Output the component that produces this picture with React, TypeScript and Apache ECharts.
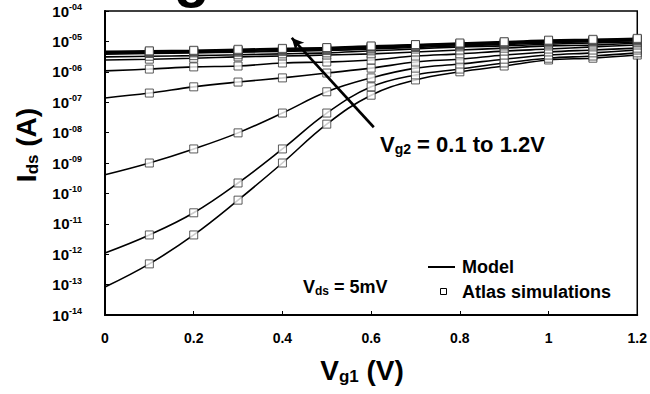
import React, { useEffect, useRef } from "react";
import * as echarts from "echarts";

// Vg1 sweep (V)
const vg1 = [0, 0.1, 0.2, 0.3, 0.4, 0.5, 0.6, 0.7, 0.8, 0.9, 1.0, 1.1, 1.2];

// Ids (A) for each Vg2 value (model = line, Atlas = squares)
const idsVg2_01 = [8.3e-14, 4.8e-13, 4.3e-12, 6.0e-11, 1.0e-9, 1.9e-8, 1.7e-7, 5.4e-7, 1.0e-6, 1.55e-6, 2.45e-6, 2.8e-6, 3.55e-6];
const idsVg2_02 = [1.1e-12, 4.3e-12, 2.3e-11, 2.2e-10, 2.9e-9, 4.4e-8, 3.2e-7, 7.9e-7, 1.23e-6, 1.95e-6, 2.8e-6, 3.3e-6, 4.2e-6];
const idsVg2_03 = [4.1e-10, 1.0e-9, 2.9e-9, 9.8e-9, 4.4e-8, 2.2e-7, 6.3e-7, 1.32e-6, 1.8e-6, 2.6e-6, 3.55e-6, 4.2e-6, 5.2e-6];
const idsVg2_04 = [1.38e-7, 2.0e-7, 3.2e-7, 4.6e-7, 6.3e-7, 9.1e-7, 1.32e-6, 2.1e-6, 2.6e-6, 3.55e-6, 4.5e-6, 5.2e-6, 6.0e-6];
const idsVg2_05 = [1.07e-6, 1.23e-6, 1.45e-6, 1.55e-6, 1.95e-6, 2.1e-6, 2.45e-6, 3.3e-6, 3.9e-6, 4.8e-6, 5.6e-6, 6.6e-6, 7.6e-6];
const idsVg2_06 = [2.45e-6, 2.6e-6, 2.8e-6, 3.1e-6, 3.3e-6, 3.55e-6, 3.9e-6, 4.5e-6, 5.2e-6, 6.0e-6, 7.1e-6, 7.6e-6, 8.9e-6];
const idsVg2_07 = [3.1e-6, 3.24e-6, 3.4e-6, 3.63e-6, 3.9e-6, 4.2e-6, 4.9e-6, 5.6e-6, 6.6e-6, 7.1e-6, 8.1e-6, 8.9e-6, 9.55e-6];
const idsVg2_08 = [3.8e-6, 4.0e-6, 4.2e-6, 4.4e-6, 4.7e-6, 5.0e-6, 5.6e-6, 6.3e-6, 7.2e-6, 7.9e-6, 8.9e-6, 9.8e-6, 1.05e-5];
const idsVg2_09 = [4.1e-6, 4.3e-6, 4.5e-6, 4.7e-6, 5.0e-6, 5.4e-6, 6.0e-6, 6.8e-6, 7.8e-6, 8.5e-6, 9.55e-6, 1.02e-5, 1.1e-5];
const idsVg2_10 = [4.3e-6, 4.5e-6, 4.7e-6, 5.0e-6, 5.4e-6, 5.75e-6, 6.5e-6, 7.2e-6, 8.1e-6, 8.9e-6, 1.0e-5, 1.07e-5, 1.15e-5];
const idsVg2_11 = [4.5e-6, 4.7e-6, 4.9e-6, 5.2e-6, 5.6e-6, 6.0e-6, 6.8e-6, 7.6e-6, 8.5e-6, 9.3e-6, 1.05e-5, 1.12e-5, 1.2e-5];
const idsVg2_12 = [4.7e-6, 4.9e-6, 5.1e-6, 5.5e-6, 5.9e-6, 6.3e-6, 7.1e-6, 7.9e-6, 8.9e-6, 9.8e-6, 1.1e-5, 1.17e-5, 1.26e-5];

const curves = [
  idsVg2_01, idsVg2_02, idsVg2_03, idsVg2_04, idsVg2_05, idsVg2_06,
  idsVg2_07, idsVg2_08, idsVg2_09, idsVg2_10, idsVg2_11, idsVg2_12,
];

// Arrow annotation (data coords: [Vg1, Ids])
const arrowFrom = [0.606, 1.5e-8];
const arrowTo = [0.421, 1.3e-5];

const FONT = '"Liberation Sans", Arial, sans-serif';

export default function App() {
  const ref = useRef<HTMLDivElement>(null);

  useEffect(() => {
    if (!ref.current) return;
    const chart = echarts.init(ref.current, undefined, { renderer: "svg" });

    const series: any[] = [];
    curves.forEach((c, idx) => {
      series.push({
        type: "line",
        name: "Model",
        data: vg1.map((x, i) => [x, c[i]]),
        showSymbol: false,
        smooth: 0.4,
        lineStyle: { color: "#000", width: 1.6 },
        z: 2,
        silent: true,
        ...(idx === 0
          ? {
              markLine: {
                silent: true,
                symbol: ["none", "arrow"],
                symbolSize: [9, 12],
                label: { show: false },
                lineStyle: { color: "#000", width: 2.6, type: "solid" },
                data: [[{ coord: arrowFrom }, { coord: arrowTo }]],
              },
            }
          : {}),
      });
      series.push({
        type: "scatter",
        name: "Atlas simulations",
        data: vg1.slice(1).map((x, i) => [x, c[i + 1]]),
        symbol: "rect",
        symbolSize: 8,
        itemStyle: { color: "#fff", borderColor: "#333", borderWidth: 1 },
        z: 3,
        silent: true,
      });
    });

    const option: any = {
      animation: false,
      backgroundColor: "#fff",
      grid: {
        left: 105,
        right: 12,
        top: 11,
        bottom: 79,
        show: true,
        borderColor: "#000",
        borderWidth: 1.5,
        backgroundColor: "transparent",
      },
      xAxis: {
        type: "value",
        min: 0,
        max: 1.2,
        interval: 0.2,
        axisLine: { show: true, lineStyle: { color: "#000", width: 2 } },
        axisTick: { show: true, inside: true, length: 4, lineStyle: { color: "#000", width: 1 } },
        splitLine: { show: false },
        axisLabel: {
          margin: 16,
          color: "#000",
          fontFamily: FONT,
          fontWeight: "bold",
          fontSize: 14,
          formatter: (v: number) => String(Math.round(v * 10) / 10),
        },
      },
      yAxis: {
        type: "log",
        logBase: 10,
        min: 1e-14,
        max: 1e-4,
        interval: 1,
        splitNumber: 10,
        axisLine: { show: true, lineStyle: { color: "#000", width: 2 } },
        axisTick: { show: true, inside: true, length: 4, lineStyle: { color: "#000", width: 1 } },
        splitLine: { show: false },
        minorTick: { show: false },
        axisLabel: {
          margin: 23,
          color: "#000",
          fontFamily: FONT,
          fontWeight: "bold",
          formatter: (v: number) => {
            const e = Math.round(Math.log10(v));
            const s = "-" + String(Math.abs(e)).padStart(2, "0");
            return "{b|10}{s|" + s + "}";
          },
          rich: {
            b: { fontSize: 15, fontWeight: "bold", fontFamily: FONT, color: "#000" },
            s: { fontSize: 9, fontWeight: "bold", fontFamily: FONT, color: "#000", padding: [0, 0, 8, 0] },
          },
        },
      },
      graphic: [
        {
          type: "text",
          x: 174,
          y: -25,
          silent: true,
          style: { text: "g", font: `bold 58px ${FONT}`, fill: "#000", verticalAlign: "middle" },
        },
        {
          type: "text",
          x: 26,
          y: 145,
          rotation: Math.PI / 2,
          silent: true,
          style: {
            text: "{b|I}{s|ds}{b| (A)}",
            align: "center",
            verticalAlign: "middle",
            rich: {
              b: { fontSize: 28, fontWeight: "bold", fontFamily: FONT, fill: "#000" },
              s: { fontSize: 17, fontWeight: "bold", fontFamily: FONT, fill: "#000", padding: [12, 0, 0, 0] },
            },
          },
        },
        {
          type: "text",
          x: 362,
          y: 370,
          silent: true,
          style: {
            text: "{b|V}{s|g1}{b| (V)}",
            align: "center",
            verticalAlign: "middle",
            rich: {
              b: { fontSize: 28, fontWeight: "bold", fontFamily: FONT, fill: "#000" },
              s: { fontSize: 17, fontWeight: "bold", fontFamily: FONT, fill: "#000", padding: [12, 0, 0, 0] },
            },
          },
        },
        {
          type: "text",
          x: 380,
          y: 144,
          silent: true,
          style: {
            text: "{b|V}{s|g2}{b| = 0.1 to 1.2V}",
            align: "left",
            verticalAlign: "middle",
            rich: {
              b: { fontSize: 22, fontWeight: "bold", fontFamily: FONT, fill: "#000" },
              s: { fontSize: 14, fontWeight: "bold", fontFamily: FONT, fill: "#000", padding: [10, 0, 0, 0] },
            },
          },
        },
        {
          type: "text",
          x: 303,
          y: 287,
          silent: true,
          style: {
            text: "{b|V}{s|ds}{b| = 5mV}",
            align: "left",
            verticalAlign: "middle",
            rich: {
              b: { fontSize: 18, fontWeight: "bold", fontFamily: FONT, fill: "#000" },
              s: { fontSize: 12, fontWeight: "bold", fontFamily: FONT, fill: "#000", padding: [8, 0, 0, 0] },
            },
          },
        },
        {
          type: "line",
          silent: true,
          shape: { x1: 428, y1: 267, x2: 455, y2: 267 },
          style: { stroke: "#000", lineWidth: 2 },
        },
        {
          type: "text",
          x: 462,
          y: 267,
          silent: true,
          style: { text: "Model", font: `bold 18px ${FONT}`, fill: "#000", verticalAlign: "middle" },
        },
        {
          type: "rect",
          silent: true,
          shape: { x: 440.5, y: 288.5, width: 6, height: 6 },
          style: { fill: "#fff", stroke: "#000", lineWidth: 1 },
        },
        {
          type: "text",
          x: 462,
          y: 292,
          silent: true,
          style: { text: "Atlas simulations", font: `bold 18px ${FONT}`, fill: "#000", verticalAlign: "middle" },
        },
      ],
      series,
    };

    chart.setOption(option);
    return () => chart.dispose();
  }, []);

  return (
    <div
      ref={ref}
      style={{ position: "fixed", left: 0, top: 0, width: 650, height: 394, background: "#fff" }}
    />
  );
}
